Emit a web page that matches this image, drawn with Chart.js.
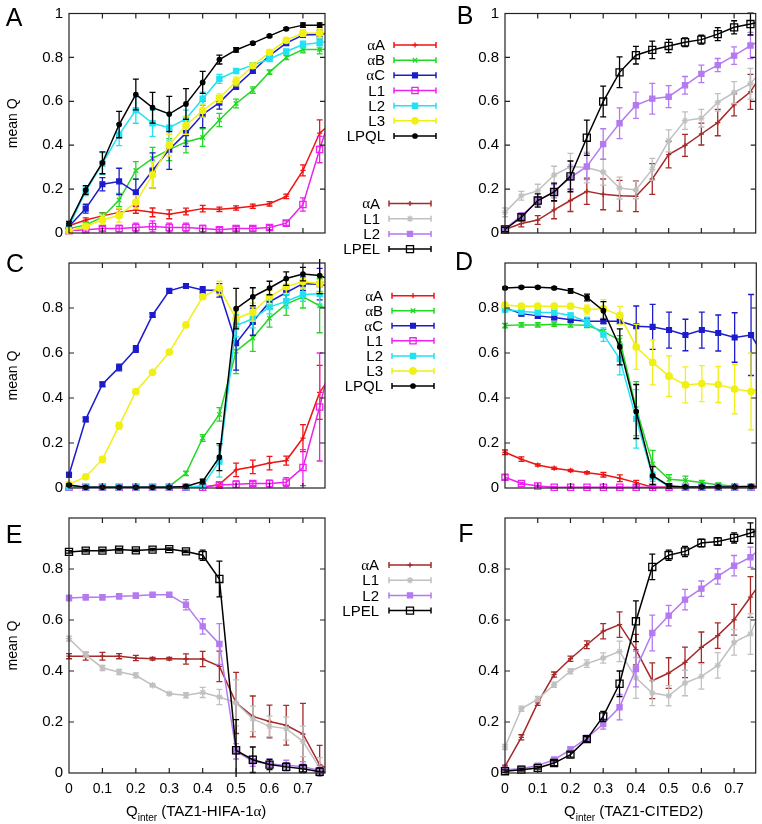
<!DOCTYPE html>
<html>
<head>
<meta charset="utf-8">
<script src="https://cdn.jsdelivr.net/npm/chart.js@4.4.1/dist/chart.umd.min.js"></script>
<style>
  html, body { margin: 0; padding: 0; background: #fff; }
  #wrap { position: relative; width: 762px; height: 824px; overflow: hidden; }
  #wrap canvas { position: absolute; left: 0; top: 0; }
</style>
</head>
<body>
<div id="wrap">
  <canvas id="cA" width="762" height="824"></canvas>
  <canvas id="cB" width="762" height="824"></canvas>
  <canvas id="cC" width="762" height="824"></canvas>
  <canvas id="cD" width="762" height="824"></canvas>
  <canvas id="cE" width="762" height="824"></canvas>
  <canvas id="cF" width="762" height="824"></canvas>
</div>
<script>
// ---- data ----
const qInter = [0, 0.05, 0.1, 0.15, 0.2, 0.25, 0.3, 0.35, 0.4, 0.45, 0.5, 0.55, 0.6, 0.65, 0.7, 0.75, 0.8];
const xTickValues = [0, 0.1, 0.2, 0.3, 0.4, 0.5, 0.6, 0.7];
const yTicksTop = [0, 0.2, 0.4, 0.6, 0.8, 1];
const yTicksLower = [0, 0.2, 0.4, 0.6, 0.8];
const namesHIF = ['αA', 'αB', 'αC', 'L1', 'L2', 'L3', 'LPQL'];
const namesCIT = ['αA', 'L1', 'L2', 'LPEL'];
const xTitleHIF = ' (TAZ1-HIFA-1α)';
const xTitleCIT = ' (TAZ1-CITED2)';

// A: TAZ1-HIFA-1α, first condition
const aA_A = [0.033, 0.059, 0.078, 0.094, 0.105, 0.094, 0.085, 0.098, 0.111, 0.108, 0.114, 0.122, 0.133, 0.167, 0.285, 0.455, 0.52];
const aB_A = [0.02, 0.037, 0.072, 0.15, 0.285, 0.34, 0.38, 0.415, 0.435, 0.515, 0.59, 0.651, 0.733, 0.8, 0.836, 0.836, 0.84];
const aC_A = [0.03, 0.111, 0.222, 0.235, 0.185, 0.285, 0.38, 0.455, 0.54, 0.594, 0.669, 0.738, 0.808, 0.865, 0.902, 0.904, 0.915];
const L1_A = [0.01, 0.015, 0.02, 0.02, 0.025, 0.03, 0.025, 0.025, 0.02, 0.015, 0.02, 0.02, 0.025, 0.045, 0.13, 0.38, 0.62];
const L2_A = [0.03, 0.19, 0.316, 0.448, 0.56, 0.5, 0.48, 0.52, 0.612, 0.702, 0.738, 0.765, 0.793, 0.827, 0.859, 0.867, 0.88];
const L3_A = [0.01, 0.03, 0.06, 0.08, 0.14, 0.265, 0.4, 0.49, 0.558, 0.614, 0.69, 0.762, 0.823, 0.878, 0.911, 0.91, 0.925];
const LPQL_A = [0.043, 0.196, 0.32, 0.494, 0.631, 0.571, 0.542, 0.588, 0.686, 0.79, 0.834, 0.865, 0.898, 0.93, 0.947, 0.947, 0.955];
const eaA_A = [0.01, 0.01, 0.015, 0.015, 0.015, 0.02, 0.02, 0.015, 0.015, 0.01, 0.01, 0.01, 0.01, 0.01, 0.025, 0.06];
const eaB_A = [0.01, 0.01, 0.02, 0.03, 0.04, 0.05, 0.05, 0.05, 0.04, 0.03, 0.02, 0.015, 0.01, 0.01, 0.015, 0.02];
const eaC_A = [0.01, 0.02, 0.03, 0.06, 0.06, 0.08, 0.09, 0.06, 0.06, 0.03, 0.015, 0.01, 0.01, 0.01, 0.01, 0.02];
const eL1_A = [0.005, 0.01, 0.01, 0.015, 0.02, 0.025, 0.02, 0.02, 0.015, 0.01, 0.01, 0.01, 0.01, 0.01, 0.03, 0.06];
const eL2_A = [0.01, 0.02, 0.05, 0.05, 0.06, 0.06, 0.06, 0.04, 0.03, 0.02, 0.01, 0.01, 0.01, 0.01, 0.015, 0.02];
const eL3_A = [0.005, 0.01, 0.02, 0.03, 0.03, 0.06, 0.05, 0.04, 0.03, 0.02, 0.02, 0.01, 0.01, 0.01, 0.015, 0.02];
const eLPQL_A = [0.01, 0.02, 0.05, 0.06, 0.07, 0.07, 0.08, 0.07, 0.05, 0.02, 0.01, 0.005, 0.005, 0.005, 0.01, 0.01];

// B: TAZ1-CITED2, first condition
const aA_B = [0.016, 0.043, 0.059, 0.105, 0.148, 0.19, 0.176, 0.17, 0.167, 0.246, 0.357, 0.399, 0.451, 0.503, 0.584, 0.643, 0.76];
const L1_B = [0.094, 0.17, 0.192, 0.264, 0.303, 0.298, 0.278, 0.205, 0.196, 0.29, 0.42, 0.512, 0.523, 0.595, 0.64, 0.68, 0.77];
const L2_B = [0.02, 0.078, 0.144, 0.19, 0.252, 0.303, 0.405, 0.5, 0.582, 0.612, 0.621, 0.673, 0.725, 0.765, 0.808, 0.854, 0.89];
const LPEL_B = [0.016, 0.072, 0.148, 0.187, 0.258, 0.434, 0.599, 0.732, 0.81, 0.834, 0.852, 0.869, 0.881, 0.906, 0.937, 0.952, 0.97];
const eaA_B = [0.005, 0.015, 0.02, 0.04, 0.05, 0.06, 0.07, 0.07, 0.07, 0.07, 0.06, 0.05, 0.05, 0.06, 0.05, 0.08];
const eL1_B = [0.02, 0.02, 0.03, 0.04, 0.06, 0.07, 0.06, 0.05, 0.04, 0.05, 0.05, 0.04, 0.04, 0.04, 0.05, 0.07];
const eL2_B = [0.01, 0.015, 0.02, 0.03, 0.05, 0.06, 0.07, 0.07, 0.06, 0.07, 0.05, 0.04, 0.04, 0.03, 0.04, 0.06];
const eLPEL_B = [0.01, 0.015, 0.03, 0.04, 0.07, 0.08, 0.07, 0.07, 0.04, 0.04, 0.03, 0.02, 0.02, 0.03, 0.03, 0.05];

// C: TAZ1-HIFA-1α, second condition
const aA_C = [0.003, 0.003, 0.003, 0.003, 0.003, 0.003, 0.003, 0.003, 0.003, 0.016, 0.081, 0.094, 0.111, 0.122, 0.222, 0.425, 0.53];
const aB_C = [0.01, 0.003, 0.003, 0.003, 0.003, 0.003, 0.007, 0.065, 0.222, 0.327, 0.608, 0.667, 0.755, 0.817, 0.85, 0.81, 0.78];
const aC_C = [0.059, 0.305, 0.461, 0.536, 0.618, 0.769, 0.876, 0.898, 0.88, 0.878, 0.644, 0.739, 0.827, 0.869, 0.908, 0.906, 0.89];
const L1_C = [0.003, 0.003, 0.003, 0.003, 0.003, 0.003, 0.003, 0.003, 0.003, 0.013, 0.017, 0.02, 0.02, 0.026, 0.091, 0.36, 0.67];
const L2_C = [0.003, 0.003, 0.003, 0.003, 0.003, 0.003, 0.003, 0.003, 0.01, 0.118, 0.722, 0.752, 0.804, 0.83, 0.86, 0.863, 0.863];
const L3_C = [0.016, 0.05, 0.127, 0.277, 0.429, 0.514, 0.604, 0.725, 0.85, 0.889, 0.752, 0.782, 0.85, 0.895, 0.918, 0.908, 0.94];
const LPQL_C = [0.013, 0.003, 0.003, 0.003, 0.003, 0.003, 0.003, 0.007, 0.029, 0.137, 0.797, 0.85, 0.889, 0.931, 0.951, 0.944, 0.916];
const eaA_C = [0.003, 0.003, 0.003, 0.003, 0.003, 0.003, 0.003, 0.003, 0.003, 0.01, 0.03, 0.03, 0.03, 0.02, 0.06, 0.12];
const eaB_C = [0.005, 0.003, 0.003, 0.003, 0.003, 0.003, 0.005, 0.01, 0.015, 0.03, 0.1, 0.06, 0.04, 0.05, 0.05, 0.12];
const eaC_C = [0.01, 0.01, 0.01, 0.015, 0.015, 0.01, 0.01, 0.01, 0.015, 0.03, 0.12, 0.06, 0.03, 0.03, 0.03, 0.07];
const eL1_C = [0.005, 0.005, 0.005, 0.005, 0.005, 0.005, 0.005, 0.005, 0.005, 0.015, 0.015, 0.01, 0.015, 0.02, 0.08, 0.24];
const eL2_C = [0.005, 0.005, 0.005, 0.005, 0.005, 0.005, 0.005, 0.005, 0.01, 0.07, 0.05, 0.04, 0.03, 0.03, 0.03, 0.05];
const eL3_C = [0.005, 0.005, 0.01, 0.015, 0.01, 0.005, 0.005, 0.01, 0.01, 0.03, 0.03, 0.04, 0.03, 0.03, 0.03, 0.04];
const eLPQL_C = [0.005, 0.005, 0.005, 0.005, 0.005, 0.005, 0.005, 0.005, 0.01, 0.06, 0.09, 0.04, 0.03, 0.03, 0.03, 0.08];

// D: TAZ1-CITED2, second condition
const aA_D = [0.159, 0.128, 0.102, 0.088, 0.078, 0.068, 0.059, 0.043, 0.024, 0.003, 0.003, 0.003, 0.003, 0.003, 0.003, 0.003, 0.003];
const aB_D = [0.722, 0.725, 0.725, 0.728, 0.725, 0.723, 0.695, 0.657, 0.353, 0.107, 0.039, 0.033, 0.024, 0.013, 0.009, 0.007, 0.005];
const aC_D = [0.8, 0.775, 0.765, 0.758, 0.748, 0.741, 0.741, 0.741, 0.719, 0.716, 0.702, 0.68, 0.702, 0.689, 0.669, 0.68, 0.56];
const L1_D = [0.048, 0.02, 0.009, 0.003, 0.003, 0.003, 0.003, 0.003, 0.003, 0.003, 0.003, 0.003, 0.003, 0.003, 0.003, 0.003, 0.003];
const L2_D = [0.793, 0.784, 0.78, 0.78, 0.767, 0.739, 0.682, 0.573, 0.307, 0.05, 0.007, 0.003, 0.003, 0.003, 0.003, 0.003, 0.003];
const L3_D = [0.813, 0.808, 0.808, 0.808, 0.808, 0.793, 0.797, 0.767, 0.627, 0.558, 0.497, 0.458, 0.464, 0.46, 0.44, 0.429, 0.455];
const LPQL_D = [0.889, 0.892, 0.892, 0.889, 0.876, 0.847, 0.788, 0.627, 0.34, 0.055, 0.009, 0.005, 0.005, 0.005, 0.005, 0.007, 0.005];
const eaA_D = [0.01, 0.01, 0.005, 0.005, 0.005, 0.005, 0.01, 0.015, 0.01, 0.005, 0.003, 0.003, 0.003, 0.003, 0.003, 0.003];
const eaB_D = [0.01, 0.01, 0.01, 0.01, 0.01, 0.01, 0.01, 0.02, 0.12, 0.06, 0.02, 0.02, 0.01, 0.01, 0.005, 0.005];
const eaC_D = [0.01, 0.01, 0.01, 0.01, 0.01, 0.01, 0.01, 0.01, 0.09, 0.1, 0.08, 0.07, 0.08, 0.08, 0.11, 0.18];
const eL1_D = [0.01, 0.005, 0.003, 0.003, 0.003, 0.003, 0.003, 0.003, 0.003, 0.003, 0.003, 0.003, 0.003, 0.003, 0.003, 0.003];
const eL2_D = [0.01, 0.01, 0.01, 0.01, 0.01, 0.02, 0.03, 0.07, 0.13, 0.02, 0.005, 0.003, 0.003, 0.003, 0.003, 0.003];
const eL3_D = [0.01, 0.01, 0.01, 0.01, 0.01, 0.02, 0.04, 0.04, 0.1, 0.1, 0.09, 0.08, 0.08, 0.08, 0.11, 0.17];
const eLPQL_D = [0.005, 0.005, 0.005, 0.005, 0.01, 0.015, 0.04, 0.08, 0.12, 0.04, 0.01, 0.005, 0.005, 0.005, 0.005, 0.005];

// E: TAZ1-HIFA-1α, third condition
const aA_E = [0.458, 0.458, 0.458, 0.458, 0.451, 0.448, 0.448, 0.447, 0.447, 0.418, 0.275, 0.222, 0.202, 0.187, 0.153, 0.033, 0.0];
const L1_E = [0.527, 0.464, 0.412, 0.396, 0.383, 0.344, 0.311, 0.305, 0.316, 0.298, 0.275, 0.212, 0.183, 0.174, 0.124, 0.02, 0.0];
const L2_E = [0.686, 0.689, 0.689, 0.693, 0.695, 0.699, 0.699, 0.66, 0.575, 0.506, 0.085, 0.046, 0.035, 0.03, 0.025, 0.01, 0.0];
const LPEL_E = [0.867, 0.872, 0.872, 0.876, 0.873, 0.876, 0.878, 0.869, 0.854, 0.761, 0.089, 0.052, 0.033, 0.024, 0.017, 0.005, 0.0];
const eaA_E = [0.01, 0.015, 0.015, 0.01, 0.01, 0.005, 0.005, 0.02, 0.03, 0.06, 0.12, 0.08, 0.064, 0.078, 0.12, 0.075];
const eL1_E = [0.01, 0.01, 0.01, 0.01, 0.01, 0.005, 0.005, 0.01, 0.02, 0.03, 0.09, 0.05, 0.04, 0.045, 0.06, 0.04];
const eL2_E = [0.01, 0.01, 0.01, 0.01, 0.01, 0.005, 0.005, 0.02, 0.03, 0.08, 0.03, 0.02, 0.02, 0.02, 0.02, 0.02];
const eLPEL_E = [0.005, 0.005, 0.005, 0.005, 0.005, 0.005, 0.005, 0.005, 0.02, 0.07, 0.12, 0.05, 0.02, 0.015, 0.015, 0.015];

// F: TAZ1-CITED2, third condition
const aA_F = [0.026, 0.14, 0.275, 0.386, 0.448, 0.503, 0.556, 0.582, 0.484, 0.362, 0.392, 0.434, 0.493, 0.539, 0.601, 0.69, 0.78];
const L1_F = [0.102, 0.252, 0.29, 0.346, 0.399, 0.429, 0.451, 0.477, 0.373, 0.314, 0.303, 0.353, 0.379, 0.422, 0.512, 0.545, 0.7];
const L2_F = [0.013, 0.017, 0.029, 0.052, 0.092, 0.137, 0.192, 0.258, 0.408, 0.549, 0.617, 0.68, 0.723, 0.771, 0.813, 0.846, 0.905];
const LPEL_F = [0.007, 0.013, 0.02, 0.039, 0.072, 0.133, 0.222, 0.35, 0.595, 0.808, 0.854, 0.869, 0.902, 0.908, 0.922, 0.941, 0.963];
const eaA_F = [0.005, 0.01, 0.01, 0.01, 0.01, 0.015, 0.03, 0.05, 0.06, 0.07, 0.06, 0.06, 0.06, 0.05, 0.06, 0.08];
const eL1_F = [0.01, 0.01, 0.01, 0.01, 0.01, 0.015, 0.02, 0.04, 0.08, 0.05, 0.04, 0.05, 0.05, 0.05, 0.05, 0.08];
const eL2_F = [0.005, 0.005, 0.005, 0.01, 0.01, 0.01, 0.02, 0.05, 0.07, 0.07, 0.04, 0.04, 0.03, 0.03, 0.04, 0.04];
const eLPEL_F = [0.005, 0.005, 0.005, 0.01, 0.01, 0.01, 0.02, 0.05, 0.08, 0.05, 0.02, 0.02, 0.015, 0.015, 0.02, 0.04];

// ---- look ----
const SANS = '"Liberation Sans", Arial, Helvetica, sans-serif';
const SERIF = '"Liberation Serif", "DejaVu Serif", serif';

const looksHIF = {
  'αA':  { c: '#f01414', p: 'cross',    r: 2.6, fill: true },
  'αB':  { c: '#22d822', p: 'crossRot', r: 3.2, fill: true },
  'αC':  { c: '#1c1ccc', p: 'rect',     r: 3.4, fill: true },
  'L1':  { c: '#ee22ee', p: 'rect',     r: 4.4, fill: false },
  'L2':  { c: '#22e2f2', p: 'rect',     r: 3.6, fill: true },
  'L3':  { c: '#f0f014', p: 'circle',   r: 3.2, fill: true },
  'LPQL':{ c: '#000000', p: 'circle',   r: 2.2, fill: true }
};
const looksCIT = {
  'αA':  { c: '#a52a2a', p: 'cross',    r: 2.6, fill: true },
  'L1':  { c: '#c0c0c0', p: 'star',     r: 3.2, fill: true },
  'L2':  { c: '#b47af0', p: 'rect',     r: 3.6, fill: true },
  'LPEL':{ c: '#000000', p: 'rect',     r: 5,   fill: false }
};

function makeSet(name, vals, errs, look, idx, n) {
  return {
    label: name,
    data: qInter.map((x, i) => ({ x: x, y: vals[i] })),
    errors: errs,
    borderColor: look.c,
    backgroundColor: look.c,
    borderWidth: 1.5,
    tension: 0,
    pointStyle: look.p,
    pointRadius: look.r,
    pointBorderWidth: 1.3,
    pointBorderColor: look.c,
    pointBackgroundColor: look.fill ? look.c : 'rgba(0,0,0,0)',
    clip: { left: 7, top: 7, right: 0, bottom: 7 },
    order: n - 1 - idx
  };
}

function fmt(v) {
  return String(Math.round(v * 10) / 10);
}

// error bars, drawn through the scales
const errorBars = {
  id: 'errorBars',
  afterDatasetDraw(chart, args) {
    const ds = chart.data.datasets[args.index];
    if (!ds.errors) return;
    const meta = args.meta;
    const ys = chart.scales.y;
    const area = chart.chartArea;
    const ctx = chart.ctx;
    ctx.save();
    ctx.beginPath();
    ctx.rect(area.left - 7, area.top - 4, area.right - area.left + 7, area.bottom - area.top + 8);
    ctx.clip();
    ctx.strokeStyle = ds.borderColor;
    ctx.lineWidth = 1.3;
    ds.errors.forEach((e, j) => {
      const pt = meta.data[j];
      const v = ds.data[j].y;
      const y1 = ys.getPixelForValue(v - e);
      const y2 = ys.getPixelForValue(v + e);
      ctx.beginPath();
      ctx.moveTo(pt.x, y1); ctx.lineTo(pt.x, y2);
      ctx.moveTo(pt.x - 3, y1); ctx.lineTo(pt.x + 3, y1);
      ctx.moveTo(pt.x - 3, y2); ctx.lineTo(pt.x + 3, y2);
      ctx.stroke();
    });
    ctx.restore();
  }
};

// box with inward ticks on all four sides
const frame = {
  id: 'frame',
  afterDraw(chart) {
    const { left, right, top, bottom } = chart.chartArea;
    const xs = chart.scales.x, ys = chart.scales.y;
    const ctx = chart.ctx;
    ctx.save();
    ctx.strokeStyle = '#222';
    ctx.lineWidth = 1.2;
    ctx.strokeRect(left, top, right - left, bottom - top);
    ctx.beginPath();
    xTickValues.forEach(v => {
      const px = xs.getPixelForValue(v);
      if (v === 0) return;
      ctx.moveTo(px, bottom); ctx.lineTo(px, bottom - 5);
      ctx.moveTo(px, top); ctx.lineTo(px, top + 5);
    });
    yTicksTop.forEach(v => {
      if (v === 0 || v === 1) return;
      const py = ys.getPixelForValue(v);
      ctx.moveTo(left, py); ctx.lineTo(left + 5, py);
      ctx.moveTo(right, py); ctx.lineTo(right - 5, py);
    });
    ctx.stroke();
    ctx.restore();
  }
};

// text runs where α is set in a serif face
function drawRuns(ctx, text, x, y, size, align) {
  const parts = text.split(/(α)/).filter(s => s.length);
  const fonts = parts.map(s => (s === 'α' ? size + 'px ' + SERIF : size + 'px ' + SANS));
  let widths = parts.map((s, i) => { ctx.font = fonts[i]; return ctx.measureText(s).width; });
  let total = widths.reduce((a, b) => a + b, 0);
  let cx = align === 'right' ? x - total : x;
  ctx.textAlign = 'left';
  parts.forEach((s, i) => {
    ctx.font = fonts[i];
    ctx.fillText(s, cx, y);
    cx += widths[i];
  });
  return cx;
}

function marker(ctx, look, x, y) {
  ctx.save();
  ctx.strokeStyle = look.c;
  ctx.fillStyle = look.fill ? look.c : 'rgba(0,0,0,0)';
  ctx.lineWidth = 1.3;
  Chart.helpers.drawPoint(ctx, { pointStyle: look.p, radius: look.r, rotation: 0, borderWidth: 1.3 }, x, y);
  ctx.restore();
}

const decor = {
  id: 'decor',
  afterDraw(chart, args, opts) {
    const ctx = chart.ctx;
    const area = chart.chartArea;
    ctx.save();
    ctx.fillStyle = '#000';
    ctx.textBaseline = 'middle';
    // panel letter
    ctx.font = '25px ' + SANS;
    ctx.textAlign = 'center';
    ctx.fillText(opts.letter, opts.lx, opts.ly);
    // y label
    if (opts.ylabel) {
      ctx.save();
      ctx.translate(13, (area.top + area.bottom) / 2);
      ctx.rotate(-Math.PI / 2);
      ctx.font = '14px ' + SANS;
      ctx.textAlign = 'center';
      ctx.fillText('mean Q', 0, 0);
      ctx.restore();
    }
    // x title with subscript
    if (opts.xtitle) {
      ctx.textBaseline = 'alphabetic';
      ctx.font = '15px ' + SANS;
      ctx.textAlign = 'left';
      let x = opts.tx;
      ctx.fillText('Q', x, 816);
      x += ctx.measureText('Q').width;
      ctx.font = '10px ' + SANS;
      ctx.fillText('inter', x, 821);
      x += ctx.measureText('inter').width;
      drawRuns(ctx, opts.xtitle, x, 816, 15, 'left');
      ctx.textBaseline = 'middle';
    }
    // legend
    if (opts.legend) {
      const L = opts.legend;
      L.names.forEach((name, k) => {
        const y = L.y0 + k * L.dy;
        const look = L.looks[name];
        ctx.fillStyle = '#000';
        drawRuns(ctx, name, L.textRight, y + 1, 15, 'right');
        ctx.strokeStyle = look.c;
        ctx.lineWidth = 1.5;
        ctx.beginPath();
        ctx.moveTo(L.x0, y); ctx.lineTo(L.x1, y);
        ctx.moveTo(L.x0, y - 3); ctx.lineTo(L.x0, y + 3);
        ctx.moveTo(L.x1, y - 3); ctx.lineTo(L.x1, y + 3);
        ctx.stroke();
        marker(ctx, look, (L.x0 + L.x1) / 2, y);
      });
    }
    ctx.restore();
  }
};

Chart.register(errorBars, frame, decor);

function makePanel(id, area, datasets, yTicks, showX, deco) {
  const xAxisH = 30;
  return new Chart(document.getElementById(id), {
    type: 'line',
    data: { datasets: datasets },
    options: {
      responsive: false,
      animation: false,
      events: [],
      layout: {
        padding: {
          left: 0,
          top: area.top,
          right: 762 - area.right,
          bottom: showX ? 824 - area.bottom - xAxisH : 824 - area.bottom
        }
      },
      plugins: {
        legend: { display: false },
        tooltip: { enabled: false },
        decor: deco
      },
      scales: {
        x: {
          type: 'linear', min: 0, max: 0.766, display: showX,
          grid: { display: false, drawTicks: false },
          border: { display: false },
          ticks: { color: '#000', padding: 9, font: { family: SANS, size: 14, lineHeight: 1 }, callback: fmt, maxRotation: 0, autoSkip: false },
          afterBuildTicks: s => { s.ticks = xTickValues.map(v => ({ value: v })); },
          afterFit: s => { s.height = xAxisH; }
        },
        y: {
          type: 'linear', min: 0, max: 1,
          grid: { display: false, drawTicks: false },
          border: { display: false },
          ticks: { color: '#000', padding: 6, font: { family: SANS, size: 15, lineHeight: 1 }, callback: fmt, autoSkip: false },
          afterBuildTicks: s => { s.ticks = yTicks.map(v => ({ value: v })); },
          afterFit: s => { s.width = area.left; }
        }
      }
    }
  });
}

function setsFor(names, looks, vals, errs) {
  return names.map((n, i) => makeSet(n, vals[i], errs[i], looks[n], i, names.length));
}

makePanel('cA', { left: 69, right: 325, top: 8, bottom: 263 },
  setsFor(namesHIF, looksHIF, [aA_A, aB_A, aC_A, L1_A, L2_A, L3_A, LPQL_A], [eaA_A, eaB_A, eaC_A, eL1_A, eL2_A, eL3_A, eLPQL_A]),
  yTicksTop, false,
  { letter: 'A', lx: 14, ly: 19, ylabel: true, legend: { names: namesHIF, looks: looksHIF, y0: 45, dy: 15.17, textRight: 385, x0: 394, x1: 436 } });

makePanel('cB', { left: 505, right: 761, top: 8, bottom: 263 },
  setsFor(namesCIT, looksCIT, [aA_B, L1_B, L2_B, LPEL_B], [eaA_B, eL1_B, eL2_B, eLPEL_B]),
  yTicksTop, false,
  { letter: 'B', lx: 465, ly: 17, ylabel: false, legend: { names: namesCIT, looks: looksCIT, y0: 203.5, dy: 15.2, textRight: 380, x0: 389, x1: 431 } });

makePanel('cC', { left: 69, right: 325, top: 263, bottom: 518 },
  setsFor(namesHIF, looksHIF, [aA_C, aB_C, aC_C, L1_C, L2_C, L3_C, LPQL_C], [eaA_C, eaB_C, eaC_C, eL1_C, eL2_C, eL3_C, eLPQL_C]),
  yTicksLower, false,
  { letter: 'C', lx: 15, ly: 265, ylabel: true, legend: { names: namesHIF, looks: looksHIF, y0: 295.7, dy: 15.05, textRight: 383, x0: 392, x1: 434 } });

makePanel('cD', { left: 505, right: 761, top: 263, bottom: 518 },
  setsFor(namesHIF, looksHIF, [aA_D, aB_D, aC_D, L1_D, L2_D, L3_D, LPQL_D], [eaA_D, eaB_D, eaC_D, eL1_D, eL2_D, eL3_D, eLPQL_D]),
  yTicksLower, false,
  { letter: 'D', lx: 464, ly: 263, ylabel: false });

makePanel('cE', { left: 69, right: 325, top: 518, bottom: 773 },
  setsFor(namesCIT, looksCIT, [aA_E, L1_E, L2_E, LPEL_E], [eaA_E, eL1_E, eL2_E, eLPEL_E]),
  yTicksLower, true,
  { letter: 'E', lx: 14, ly: 536, ylabel: true, xtitle: xTitleHIF, tx: 126, legend: { names: namesCIT, looks: looksCIT, y0: 565, dy: 15.2, textRight: 379, x0: 389, x1: 431 } });

makePanel('cF', { left: 505, right: 761, top: 518, bottom: 773 },
  setsFor(namesCIT, looksCIT, [aA_F, L1_F, L2_F, LPEL_F], [eaA_F, eL1_F, eL2_F, eLPEL_F]),
  yTicksLower, true,
  { letter: 'F', lx: 466, ly: 535, ylabel: false, xtitle: xTitleCIT, tx: 564 });
</script>
</body>
</html>
